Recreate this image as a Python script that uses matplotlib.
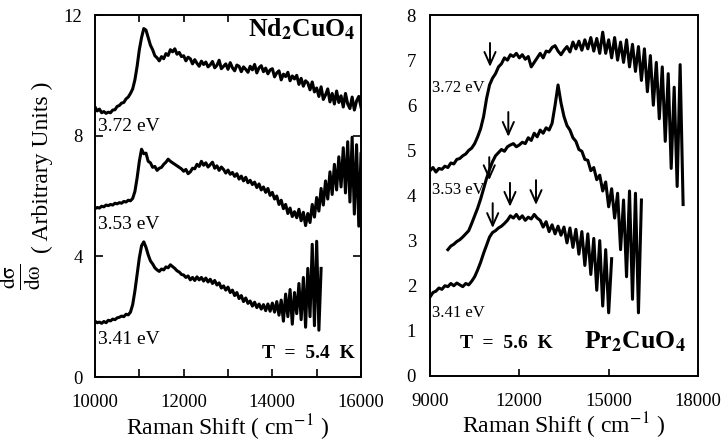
import numpy as np
import matplotlib
matplotlib.use("Agg")
import matplotlib.pyplot as plt

plt.rcParams['font.family'] = ['Liberation Serif', 'DejaVu Serif']
plt.rcParams['mathtext.fontset'] = 'stix'

# ---------------- data: Nd2CuO4 (left panel), step 50 cm^-1 ----------------
nd_step = 50
nd_372_x0 = 10000
nd_372 = [8.95, 8.82, 8.88, 8.76, 8.80, 8.74, 8.78, 8.76, 8.85, 8.86,
          8.97, 9.00, 9.08, 9.10, 9.22, 9.28, 9.40, 9.55, 9.85, 10.30,
          10.85, 11.25, 11.55, 11.50, 11.25, 11.00, 10.85, 10.65, 10.58, 10.48,
          10.62, 10.55, 10.72, 10.66, 10.85, 10.78, 10.88, 10.70, 10.76, 10.62,
          10.65, 10.48, 10.60, 10.55, 10.38, 10.52, 10.40, 10.30, 10.47, 10.36,
          10.44, 10.28, 10.35, 10.46, 10.25, 10.33, 10.50, 10.22, 10.30, 10.38,
          10.20, 10.42, 10.25, 10.15, 10.34, 10.30, 10.12, 10.28, 10.20, 10.10,
          10.30, 10.18, 10.36, 10.08, 10.25, 10.32, 10.12, 10.24, 10.05, 10.18,
          10.22, 9.95, 10.08, 10.15, 9.85, 10.04, 9.96, 10.10, 9.82, 9.98,
          9.88, 10.00, 9.70, 9.90, 9.64, 9.82, 9.75, 9.52, 9.78, 9.45,
          9.58, 9.30, 9.62, 9.20, 9.35, 9.55, 9.12, 9.40, 9.05, 9.48,
          9.10, 9.32, 8.95, 9.40, 9.05, 8.90, 9.28, 8.85, 9.15, 9.30,
          8.95]
nd_353_x0 = 10000
nd_353 = [5.58, 5.62, 5.60, 5.66, 5.64, 5.70, 5.68, 5.72, 5.70, 5.76,
          5.74, 5.78, 5.76, 5.82, 5.80, 5.86, 5.84, 5.92, 6.15, 6.60,
          7.15, 7.55, 7.40, 7.42, 7.15, 7.10, 6.95, 6.98, 6.85, 6.92,
          6.95, 7.05, 7.12, 7.22, 7.15, 7.10, 7.05, 7.00, 6.95, 6.90,
          6.82, 6.88, 6.74, 6.80, 6.92, 6.90, 7.05, 6.98, 7.15, 7.02,
          7.10, 6.96, 7.04, 7.12, 6.92, 7.00, 6.85, 6.96, 6.88, 6.76,
          6.86, 6.72, 6.78, 6.65, 6.74, 6.56, 6.66, 6.50, 6.62, 6.44,
          6.52, 6.38, 6.46, 6.28, 6.40, 6.20, 6.30, 6.12, 6.25, 6.02,
          6.12, 5.90, 6.00, 5.72, 5.86, 5.58, 5.72, 5.42, 5.60, 5.32,
          5.48, 5.28, 5.56, 5.18, 5.46, 5.02, 5.42, 5.12, 5.72, 5.30,
          5.95, 5.50, 6.25, 5.70, 6.50, 5.90, 6.80, 6.05, 7.05, 6.20,
          7.30, 6.30, 7.60, 6.10, 7.80, 5.80, 7.95, 5.40, 7.70, 5.00,
          7.40]
nd_341_x0 = 10000
nd_341 = [1.85, 1.80, 1.82, 1.78, 1.84, 1.80, 1.88, 1.86, 1.92, 1.90,
          1.96, 1.98, 2.02, 2.00, 2.08, 2.06, 2.15, 2.40, 2.85, 3.40,
          3.95, 4.35, 4.48, 4.30, 4.05, 3.85, 3.75, 3.62, 3.55, 3.50,
          3.58, 3.55, 3.65, 3.62, 3.72, 3.66, 3.60, 3.52, 3.48, 3.40,
          3.38, 3.30, 3.35, 3.22, 3.30, 3.20, 3.32, 3.22, 3.30, 3.18,
          3.28, 3.15, 3.24, 3.10, 3.20, 3.05, 3.12, 2.95, 3.02, 2.88,
          2.98, 2.80, 2.88, 2.70, 2.80, 2.60, 2.70, 2.50, 2.62, 2.44,
          2.52, 2.35, 2.48, 2.30, 2.42, 2.25, 2.40, 2.20, 2.42, 2.18,
          2.45, 2.15, 2.50, 2.05, 2.55, 1.85, 2.75, 2.00, 2.90, 1.75,
          2.80, 2.10, 3.10, 1.90, 3.30, 1.65, 3.60, 2.00, 4.40, 1.70,
          4.50, 1.55, 3.60]

# ---------------- data: Pr2CuO4 (right panel), step 100 cm^-1 ----------------
pr_step = 100
pr_372_x0 = 9000
pr_372 = [4.55, 4.62, 4.52, 4.60, 4.58, 4.65, 4.62, 4.72, 4.70, 4.80,
          4.82, 4.88, 4.92, 5.00, 5.05, 5.15, 5.30, 5.48, 5.75, 6.15,
          6.45, 6.60, 6.70, 6.85, 6.92, 7.05, 7.00, 7.12, 7.08, 7.15,
          7.05, 7.12, 7.02, 7.08, 6.85, 6.95, 7.05, 7.15, 7.05, 7.20,
          7.18, 7.28, 7.32, 7.20, 7.12, 7.22, 7.30, 7.18, 7.40, 7.25,
          7.42, 7.22, 7.45, 7.25, 7.50, 7.20, 7.48, 7.15, 7.62, 7.15,
          7.45, 7.05, 7.50, 7.00, 7.40, 6.95, 7.45, 6.85, 7.35, 6.75,
          7.30, 6.55, 7.25, 6.30, 7.10, 6.00, 6.95, 5.70, 6.85, 5.20,
          6.70, 4.60, 6.40, 4.20, 6.90, 3.80]
pr_353_x0 = 9600
pr_353 = [2.80, 2.88, 2.92, 2.98, 3.02, 3.08, 3.15, 3.22, 3.38, 3.55,
          3.72, 3.92, 4.15, 4.38, 4.58, 4.75, 4.88, 4.95, 5.02, 4.98,
          5.08, 5.12, 5.15, 5.08, 5.12, 5.18, 5.15, 5.28, 5.22, 5.38,
          5.30, 5.45, 5.38, 5.50, 5.45, 5.60, 6.00, 6.45, 6.05, 5.75,
          5.55, 5.45, 5.28, 5.20, 5.02, 4.98, 4.80, 4.78, 4.55, 4.62,
          4.35, 4.45, 4.10, 4.30, 3.75, 4.15, 3.50, 4.05, 2.80, 3.90,
          2.20, 4.10, 1.70, 4.05, 1.40, 3.90]
pr_341_x0 = 9000
pr_341 = [1.75, 1.85, 1.88, 1.95, 1.92, 2.00, 1.98, 2.05, 2.00, 2.06,
          2.02, 1.98, 2.05, 2.02, 2.10, 2.20, 2.35, 2.52, 2.72, 2.90,
          3.08, 3.18, 3.22, 3.28, 3.32, 3.38, 3.45, 3.55, 3.50, 3.58,
          3.48, 3.55, 3.45, 3.52, 3.48, 3.58, 3.50, 3.45, 3.30, 3.42,
          3.20, 3.35, 3.15, 3.32, 3.12, 3.30, 2.95, 3.28, 2.85, 3.25,
          2.70, 3.20, 2.45, 3.15, 2.25, 3.05, 1.90, 3.00, 1.55, 2.80,
          1.40, 2.60]

# arrows in Pr2CuO4 panel: x position, arrow tail y, arrow tip y
arrow_x = [11015, 11630, 10990, 11105, 11686, 12560]
arrow_top = [7.38, 5.85, 4.85, 3.83, 4.28, 4.34]
arrow_tip = [6.85, 5.30, 4.34, 3.28, 3.75, 3.79]

energy_labels = ['3.72 eV', '3.53 eV', '3.41 eV']

# ---------------- figure ----------------
W, H = 721, 442
fig = plt.figure(figsize=(W / 100, H / 100), dpi=100)
axL = fig.add_axes([95 / W, (H - 377) / H, 266 / W, 362 / H])
axR = fig.add_axes([430 / W, (H - 376) / H, 268 / W, 361 / H])

lw = 2.2
def series(x0, step, y):
    return x0 + step * np.arange(len(y)), np.asarray(y)

for x0, y in [(nd_372_x0, nd_372), (nd_353_x0, nd_353), (nd_341_x0, nd_341)]:
    xx, yy = series(x0, nd_step, y)
    axL.plot(xx, yy, color='black', lw=lw)
for x0, y in [(pr_372_x0, pr_372), (pr_353_x0, pr_353), (pr_341_x0, pr_341)]:
    xx, yy = series(x0, pr_step, y)
    axR.plot(xx, yy, color='black', lw=lw)

for x, yt, yp in zip(arrow_x, arrow_top, arrow_tip):
    axR.annotate('', xy=(x, yp), xytext=(x, yt),
                 arrowprops=dict(arrowstyle='->,head_length=0.45,head_width=0.2',
                                 lw=1.4, color='black', mutation_scale=20,
                                 shrinkA=0, shrinkB=0))

tick_fs = 13.5
# left axes
axL.set_xlim(10000, 16000)
axL.set_ylim(0, 12)
axL.set_xticks(np.arange(10000, 16001, 1000))
axL.set_xticklabels(['10000', '', '12000', '', '14000', '', '16000'])
axL.set_yticks([0, 4, 8, 12])
axL.tick_params(axis='x', direction='in', length=6, width=1.2, pad=12, labelsize=tick_fs)
axL.tick_params(axis='y', direction='in', length=6, width=1.2, pad=9, labelsize=tick_fs,
                right=True)
sec = axL.secondary_xaxis('top')
sec.set_xticks([11000, 12000, 13000])
sec.set_xticklabels([])
sec.tick_params(direction='in', length=5, width=1.2)
sec.spines['top'].set_visible(False)

# right axes
axR.set_xlim(9000, 18000)
axR.set_ylim(0, 8)
axR.set_xticks([9000, 12000, 15000, 18000])
axR.set_yticks(range(0, 9))
axR.tick_params(axis='x', direction='in', length=5, width=1.2, pad=12, labelsize=tick_fs)
axR.tick_params(axis='y', direction='in', length=0, pad=10, labelsize=tick_fs)

for ax in (axL, axR):
    for s in ax.spines.values():
        s.set_linewidth(1.4)
    ax.text(0.5, -0.16, 'Raman Shift ( cm$^{-1}$ )', transform=ax.transAxes,
            ha='center', va='baseline', fontsize=17)

# labels, left
for txt, y in zip(energy_labels, [8.32, 5.07, 1.23]):
    axL.text(10060, y, txt, fontsize=14, ha='left', va='center')
axL.text(15870, 0.63, 'T  =  5.4  K', fontsize=14, fontweight='bold', ha='right', va='baseline')
axL.text(15880, 11.28, r'Nd$_{\mathbf{2}}$CuO$_{\mathbf{4}}$', fontsize=18.5, fontweight='bold',
         ha='right', va='baseline')

# labels, right
for txt, y in zip(energy_labels, [6.38, 4.12, 1.40]):
    axR.text(9080, y, txt, fontsize=12, ha='left', va='center')
axR.text(11550, 0.62, 'T  =  5.6  K', fontsize=14, fontweight='bold', ha='center', va='baseline')
axR.text(17580, 0.62, r'Pr$_{\mathbf{2}}$CuO$_{\mathbf{4}}$', fontsize=18.5, fontweight='bold',
         ha='right', va='baseline')

# y label
fig.text(21 / W, 1 - 277 / H, r'$\frac{\mathrm{d\sigma}}{\mathrm{d\omega}}$', rotation=90,
         fontsize=22, ha='center', va='center')
fig.text(42 / W, 1 - 167 / H, '( Arbitrary Units )', rotation=90, fontsize=17,
         ha='center', va='center')

fig.savefig('out.png', dpi=100)
